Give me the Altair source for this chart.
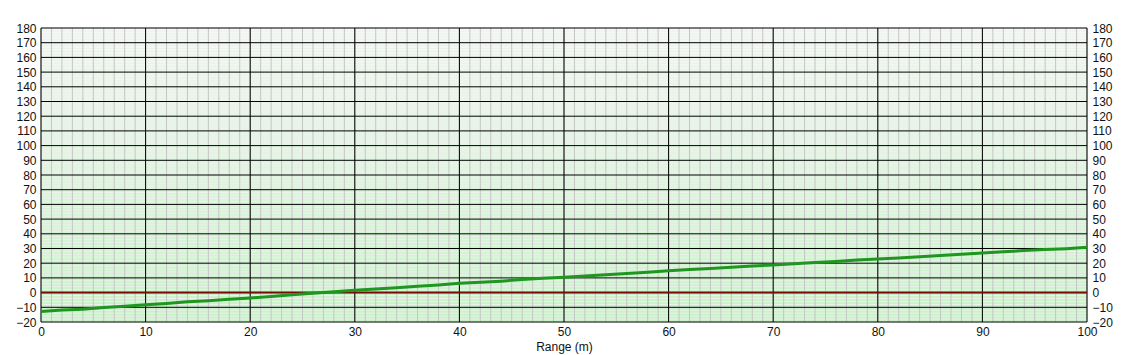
import altair as alt
import pandas as pd

# --- data ---
range_m = [0, 2, 4, 6, 8, 10, 12, 14, 16, 18, 20, 22, 24, 26, 28, 30, 32, 34, 36, 38,
           40, 42, 44, 46, 48, 50, 52, 54, 56, 58, 60, 62, 64, 66, 68, 70, 72, 74, 76, 78,
           80, 82, 84, 86, 88, 90, 92, 94, 96, 98, 100]
values = [-12.8, -11.9, -11.4, -10.1, -9.3, -8.3, -7.4, -6.3, -5.5, -4.6,
          -3.7, -2.6, -1.4, -0.4, 0.6, 1.6, 2.5, 3.3, 4.4, 5.2,
          6.3, 7.0, 7.8, 8.9, 9.7, 10.4, 11.3, 12.1, 13.0, 13.9,
          14.8, 15.7, 16.4, 17.2, 18.1, 18.8, 19.7, 20.4, 21.2, 22.1,
          22.9, 23.6, 24.4, 25.3, 26.1, 26.9, 27.8, 28.6, 29.3, 29.9, 30.8]

x_major = [0, 10, 20, 30, 40, 50, 60, 70, 80, 90, 100]
y_major = [-20, -10, 0, 10, 20, 30, 40, 50, 60, 70, 80, 90, 100, 110, 120, 130, 140, 150, 160, 170, 180]
x_minor = list(range(0, 101, 1))
y_minor = list(range(-20, 181, 2))
zero_line = [0]

X_DOMAIN = [0, 100]
Y_DOMAIN = [-20, 180]
FONT = "Liberation Sans"

xs = alt.Scale(domain=X_DOMAIN, nice=False, zero=False)
ys = alt.Scale(domain=Y_DOMAIN, nice=False, zero=False)

axis_common = dict(
    grid=False, ticks=False, domain=False, labelFlush=False,
    labelFont=FONT, labelFontSize=12, labelColor="#111111",
)
x_axis = alt.Axis(values=x_major, title="Range (m)", labelPadding=4,
                  titleFont=FONT, titleFontSize=12, titleFontWeight="normal",
                  titleColor="#111111", titlePadding=4, **axis_common)

line_df = pd.DataFrame({"range": range_m, "value": values})

bg = alt.Chart(pd.DataFrame({"a": [0]})).mark_rect(
    fill=alt.Gradient(
        gradient="linear",
        stops=[alt.GradientStop(color="#f5f8f5", offset=0),
               alt.GradientStop(color="#c6f2c6", offset=1)],
        x1=0, x2=0, y1=0, y2=1,
    )
).encode(
    x=alt.X(datum=X_DOMAIN[0], scale=xs, axis=x_axis),
    x2=alt.X2(datum=X_DOMAIN[1]),
    y=alt.Y(datum=Y_DOMAIN[0], scale=ys, axis=None),
    y2=alt.Y2(datum=Y_DOMAIN[1]),
)

minor_h = alt.Chart(pd.DataFrame({"v": y_minor})).mark_rule(
    color="#eef0ee", strokeWidth=1
).encode(y=alt.Y("v:Q", scale=ys, axis=None))

minor_v = alt.Chart(pd.DataFrame({"v": x_minor})).mark_rule(
    color="#c4c6c4", strokeWidth=1
).encode(x=alt.X("v:Q", scale=xs, axis=x_axis))

major_h = alt.Chart(pd.DataFrame({"v": y_major})).mark_rule(
    color="#000000", strokeWidth=1
).encode(y=alt.Y("v:Q", scale=ys, axis=None))

major_v = alt.Chart(pd.DataFrame({"v": x_major})).mark_rule(
    color="#000000", strokeWidth=1
).encode(x=alt.X("v:Q", scale=xs, axis=x_axis))

zero = alt.Chart(pd.DataFrame({"v": zero_line})).mark_rule(
    color="#7a0a0a", strokeWidth=2
).encode(y=alt.Y("v:Q", scale=ys, axis=None))

line = alt.Chart(line_df).mark_line(
    color="#1f961f", strokeWidth=3, interpolate="linear"
).encode(
    x=alt.X("range:Q", scale=xs, axis=x_axis),
    y=alt.Y("value:Q", scale=ys,
            axis=alt.Axis(values=y_major, title=None, orient="left",
                          labelPadding=5, **axis_common)),
)

right_axis = alt.Chart(line_df).mark_line(opacity=0).encode(
    x=alt.X("range:Q", scale=xs, axis=x_axis),
    y=alt.Y("value:Q", scale=ys,
            axis=alt.Axis(values=y_major, title=None, orient="right",
                          labelPadding=5, **axis_common)),
)

chart = alt.layer(
    bg, minor_h, minor_v, major_h, major_v, zero, line, right_axis
).resolve_axis(y="independent").properties(
    width=1046, height=294,
    autosize=alt.AutoSizeParams(type="none"),
    padding={"left": 41, "top": 28, "right": 40, "bottom": 33},
    background="#ffffff",
).configure_view(strokeWidth=0)

chart.save("out.html", embed_options={"renderer": "svg", "actions": False})
